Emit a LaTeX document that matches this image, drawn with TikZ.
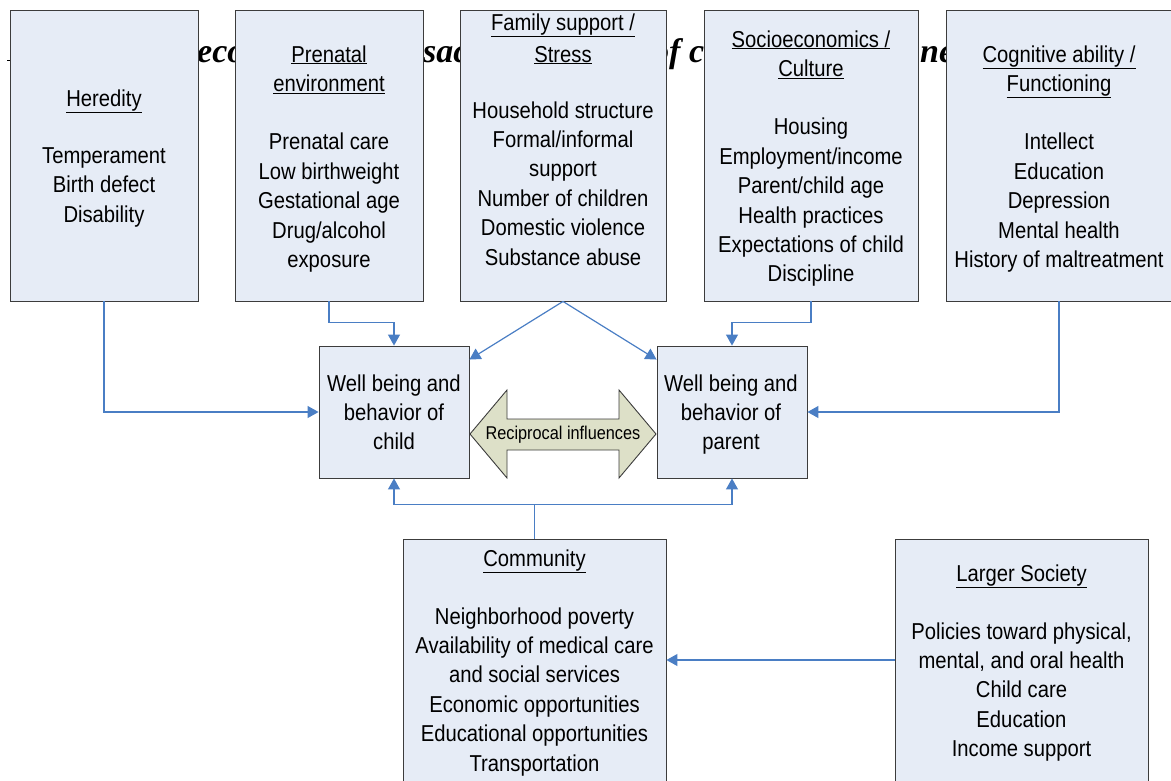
\documentclass[tikz,border=0pt]{standalone}
\usepackage{fontspec}
\setmainfont{Liberation Sans}[FakeStretch=0.88]
\newfontfamily\titleserif{Liberation Serif}
\usetikzlibrary{arrows.meta}
\definecolor{boxfill}{RGB}{230,236,246}
\definecolor{boxline}{RGB}{60,60,60}
\definecolor{conncol}{RGB}{74,126,196}
\definecolor{recfill}{RGB}{221,224,200}
\tikzset{
  box/.style={draw=boxline, fill=boxfill, line width=0.9pt, inner sep=0pt},
  txt/.style={align=center, inner sep=0pt, anchor=north, font=\fontsize{23}{29.4}\selectfont},
  conn/.style={draw=conncol, line width=1.2pt, -{Triangle[length=11pt,width=12pt]}},
  connplain/.style={draw=conncol, line width=1.2pt},
  titlefrag/.style={inner sep=0pt, anchor=base west, font=\titleserif\bfseries\itshape\fontsize{34}{34}\selectfont}
}
\begin{document}
\begin{tikzpicture}[x=1pt,y=-1pt]
\useasboundingbox (0,0) rectangle (1171,780);
% title fragments partly hidden behind the boxes
\node[titlefrag] (t1) at (197,62) {eco};
\node[titlefrag] (t2) at (423,62) {sac};
\node[titlefrag] (t3) at (652,62) {of c};
\node[titlefrag] (t4) at (920,62) {ne};
\draw[line width=1pt] (7,60) -- (10,60);
% boxes
\node[box, minimum width=188pt, minimum height=291pt] (her) at (104,155.5) {};
\node[box, minimum width=188pt, minimum height=291pt] (pre) at (329,155.5) {};
\node[box, minimum width=206pt, minimum height=291pt] (fam) at (563,155.5) {};
\node[box, minimum width=214pt, minimum height=291pt] (soc) at (811,155.5) {};
\node[box, minimum width=226pt, minimum height=291pt] (cog) at (1059,155.5) {};
\node[box, minimum width=150pt, minimum height=132pt] (child) at (394,412) {};
\node[box, minimum width=150pt, minimum height=132pt] (parent) at (732,412) {};
\node[box, minimum width=263pt, minimum height=261pt] (com) at (534.5,669.5) {};
\node[box, minimum width=253pt, minimum height=261pt] (lar) at (1021.5,669.5) {};
% texts (anchor north = first baseline - 16.8)
\node[txt] (herT) at (104,89.2) {\underline{Heredity}\\[28pt]Temperament\\Birth defect\\Disability};
\node[txt] (preT) at (329,45.2) {\underline{Prenatal}\\\underline{environment}\\[29pt]Prenatal care\\Low birthweight\\Gestational age\\Drug/alcohol\\exposure};
\node[txt] (famT) at (563,13.2) {\underline{Family support /}\\[2.6pt]\underline{Stress}\\[26.6pt]Household structure\\Formal/informal\\support\\Number of children\\Domestic violence\\Substance abuse};
\node[txt] (socT) at (811,30.2) {\underline{Socioeconomics /}\\\underline{Culture}\\[29pt]Housing\\Employment/income\\Parent/child age\\Health practices\\Expectations of child\\Discipline};
\node[txt] (cogT) at (1059,45.2) {\underline{Cognitive ability /}\\\underline{Functioning}\\[29pt]Intellect\\Education\\Depression\\Mental health\\History of maltreatment};
\node[txt] (childT) at (394,374.2) {Well being and\\behavior of\\child};
\node[txt] (parentT) at (731,374.2) {Well being and\\behavior of\\parent};
\node[txt] (comT) at (534.5,549.2) {\underline{Community}\\[28.6pt]Neighborhood poverty\\Availability of medical care\\and social services\\Economic opportunities\\Educational opportunities\\Transportation};
\node[txt] (larT) at (1021.5,564.2) {\underline{Larger Society}\\[28.6pt]Policies toward physical,\\mental, and oral health\\Child care\\Education\\Income support};
% reciprocal double arrow
\draw[draw=boxline, fill=recfill, line width=0.9pt]
  (470,434) -- (507,390) -- (507,419) -- (619,419) -- (619,390) -- (656,434)
  -- (619,478) -- (619,450) -- (507,450) -- (507,478) -- cycle;
\node[inner sep=0pt, font=\fontsize{18.5}{22}\selectfont] (rec) at (563,435) {Reciprocal influences};
% connectors
\draw[conn] (her.south) |- (child.west);
\draw[conn] (pre.south) -- ++(0,21) -| (child.north);
\draw[conn] (fam.south) -- ([yshift=-14pt]child.north east);
\draw[conn] (fam.south) -- ([yshift=-14pt]parent.north west);
\draw[conn] (soc.south) -- ++(0,21) -| (parent.north);
\draw[conn] (cog.south) |- (parent.east);
\draw[connplain] (com.north) -- ++(0,-34) coordinate (j);
\draw[conn] (j) -| (child.south);
\draw[conn] (j) -| (parent.south);
\draw[conn] ([yshift=9.5pt]lar.west) -- ([yshift=9.5pt]com.east);
\end{tikzpicture}
\end{document}
